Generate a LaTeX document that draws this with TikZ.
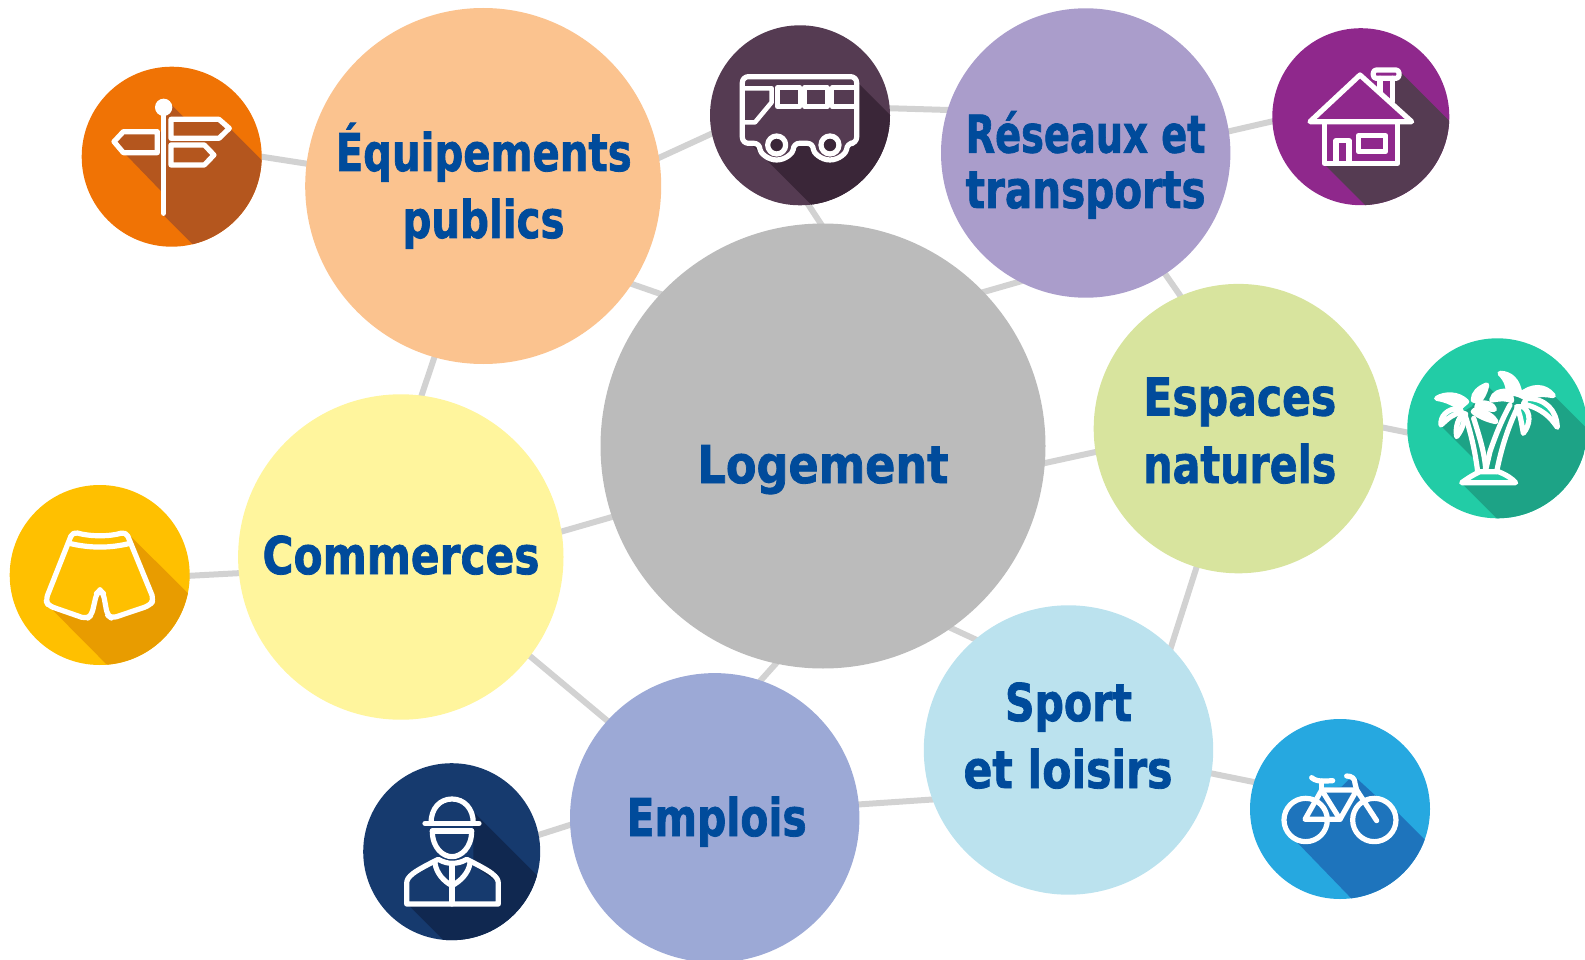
\documentclass[tikz,border=0pt]{standalone}
\usepackage{fontspec}
\usepackage{graphicx}
\setmainfont{DejaVu Sans}[BoldFeatures={FakeBold=1.6}]
\usetikzlibrary{backgrounds}
\definecolor{cEq}{HTML}{FBC38F}\definecolor{cRe}{HTML}{AA9DCB}\definecolor{cEs}{HTML}{D8E49E}
\definecolor{cSp}{HTML}{BBE2EE}\definecolor{cEm}{HTML}{9CA9D6}\definecolor{cCo}{HTML}{FFF59D}
\definecolor{cLo}{HTML}{BBBBBB}\definecolor{cLink}{HTML}{D2D2D2}\definecolor{cTxt}{HTML}{004B9B}
\definecolor{sA}{HTML}{F07305}\definecolor{sB}{HTML}{B4561E}
\definecolor{bA}{HTML}{553B52}\definecolor{bB}{HTML}{3A2638}
\definecolor{hA}{HTML}{8F288C}\definecolor{hB}{HTML}{553B52}
\definecolor{pA}{HTML}{22CCA6}\definecolor{pB}{HTML}{1DA386}
\definecolor{vA}{HTML}{26A8E0}\definecolor{vB}{HTML}{1E74BC}
\definecolor{wA}{HTML}{163A6E}\definecolor{wB}{HTML}{102850}
\definecolor{mA}{HTML}{FFC000}\definecolor{mB}{HTML}{E89C00}
\newcommand{\fitw}[2]{\resizebox{#1pt}{\height}{\fontsize{52}{60}\selectfont\bfseries #2}}
\tikzset{
  bub/.style={circle,inner sep=0pt,outer sep=0pt,minimum size=#1},
  link/.style={draw=cLink,line width=6pt,shorten <=-3pt,shorten >=-3pt},
  lab/.style={anchor=base,inner sep=0pt,text=cTxt},
  ic/.style={draw=white,line width=5.2pt,line join=round,line cap=round},
}
\begin{document}
\begin{tikzpicture}[x=1pt,y=-1pt]
\useasboundingbox (0,0) rectangle (1585,960);
% big circles
\node[bub=445pt,fill=cLo] (logement) at (823,446) {};
\node[bub=356pt,fill=cEq] (equip) at (483.2,186) {};
\node[bub=289.4pt,fill=cRe] (reseaux) at (1085.7,153) {};
\node[bub=289.4pt,fill=cEs] (espaces) at (1238.4,428.6) {};
\node[bub=289.4pt,fill=cSp] (sport) at (1068.5,750) {};
\node[bub=289.4pt,fill=cEm] (emplois) at (714.7,817.8) {};
\node[bub=325.4pt,fill=cCo] (commerces) at (400.8,557) {};
% icon circles
\node[bub=180pt,fill=sA] (sign) at (171.7,156.7) {};
\node[bub=180pt,fill=bA] (bus) at (800,115.3) {};
\node[bub=177pt,fill=hA] (house) at (1360.8,116.7) {};
\node[bub=180pt,fill=pA] (palm) at (1497.3,428.3) {};
\node[bub=180pt,fill=vA] (bike) at (1340,809) {};
\node[bub=177pt,fill=wA] (worker) at (451.7,851.7) {};
\node[bub=180pt,fill=mA] (shorts) at (99.7,575) {};
% connectors
\begin{scope}[on background layer]
\path[link] ([shift={(0:90pt)}]sign.center) -- ([shift={(172.8:178pt)}]equip.center);
\path[link] ([shift={(9.1:178pt)}]equip.center) -- ([shift={(191.7:90pt)}]bus.center);
\path[link] ([shift={(4.5:90pt)}]bus.center) -- ([shift={(162.7:144.7pt)}]reseaux.center);
\path[link] ([shift={(8.6:144.7pt)}]reseaux.center) -- ([shift={(183:88.5pt)}]house.center);
\path[link] ([shift={(-56.7:144.7pt)}]reseaux.center) -- ([shift={(113.6:144.7pt)}]espaces.center);
\path[link] ([shift={(-84.6:90pt)}]bus.center) -- ([shift={(90.6:222.5pt)}]logement.center);
\path[link] ([shift={(-33.4:178pt)}]equip.center) -- ([shift={(136.9:222.5pt)}]logement.center);
\path[link] ([shift={(-117.2:144.7pt)}]reseaux.center) -- ([shift={(43.8:222.5pt)}]logement.center);
\path[link] ([shift={(-4.4:222.5pt)}]logement.center) -- ([shift={(189.3:144.7pt)}]espaces.center);
\path[link] ([shift={(0.4:144.7pt)}]espaces.center) -- ([shift={(182.7:90pt)}]palm.center);
\path[link] ([shift={(-106.8:144.7pt)}]espaces.center) -- ([shift={(45:144.7pt)}]sport.center);
\path[link] ([shift={(-54.9:222.5pt)}]logement.center) -- ([shift={(130.1:144.7pt)}]sport.center);
\path[link] ([shift={(-102.2:222.5pt)}]logement.center) -- ([shift={(71.5:144.7pt)}]emplois.center);
\path[link] ([shift={(198.6:222.5pt)}]logement.center) -- ([shift={(9:162.7pt)}]commerces.center);
\path[link] ([shift={(82.7:162.7pt)}]commerces.center) -- ([shift={(-105.9:178pt)}]equip.center);
\path[link] ([shift={(185.7:162.7pt)}]commerces.center) -- ([shift={(-0.5:90pt)}]shorts.center);
\path[link] ([shift={(-37.5:162.7pt)}]commerces.center) -- ([shift={(137.9:144.7pt)}]emplois.center);
\path[link] ([shift={(182.8:144.7pt)}]emplois.center) -- ([shift={(10.9:88.5pt)}]worker.center);
\path[link] ([shift={(5.3:144.7pt)}]emplois.center) -- ([shift={(200:144.7pt)}]sport.center);
\path[link] ([shift={(-9.3:144.7pt)}]sport.center) -- ([shift={(162.6:90pt)}]bike.center);
\end{scope}
% labels
\node[lab] (t1) at (483.7,171) {\fitw{296}{Équipements}};
\node[lab] (t2) at (483.5,238) {\fitw{162}{publics}};
\node[lab] (t3) at (1085.6,152.6) {\fitw{240}{Réseaux et}};
\node[lab] (t4) at (1085.6,208) {\fitw{240}{transports}};
\node[lab] (t5) at (1239.8,415.5) {\fitw{193}{Espaces}};
\node[lab] (t6) at (1239.8,483) {\fitw{193}{naturels}};
\node[lab] (t7) at (823,483) {\fitw{251}{Logement}};
\node[lab] (t8) at (401,574) {\fitw{277}{Commerces}};
\node[lab] (t9) at (716.7,836) {\fitw{180}{Emplois}};
\node[lab] (t10) at (1068.5,721) {\fitw{127}{Sport}};
\node[lab] (t11) at (1068,788) {\fitw{209}{et loisirs}};
% sign icon
\begin{scope}[shift={(70,50)},x=0.3333pt,y=-0.3333pt]
\begin{scope}\clip (sign) circle [radius=90pt];
\fill[sB] (300,160)--(345,205)--(450,205)--(480,235)--(700,455)--(475,690)--(275,490)--(275,425)--(130,275)--(155,245)--(274,245)--(274,190)--cycle;
\end{scope}
\path[ic] (281,175)--(281,490);
\fill[white] (281,172) circle [radius=26];
\path[ic] (303,208)--(447,208)--(478,235)--(447,265)--(303,265)--cycle;
\path[ic] (303,285)--(403,285)--(432,315)--(403,345)--(303,345)--cycle;
\path[ic] (262,245)--(160,245)--(132,275)--(160,308)--(262,308)--cycle;
\end{scope}
% bus icon
\begin{scope}[shift={(700,15)},x=0.3333pt,y=-0.3333pt]
\begin{scope}\clip (bus) circle [radius=90pt];
\fill[bB] (460,190)--(760,490)--(500,735)--(150,385)--cycle;
\end{scope}
\path[ic,fill=bA,rounded corners=6pt] (127,220)--(127,385)--(180,385) arc[start angle=180,end angle=0,radius=50]--(340,385) arc[start angle=180,end angle=0,radius=50]--(470,385)--(470,185)--(127,185)--cycle;
\path[ic,fill=bB] (230,390) circle [radius=27];
\path[ic,fill=bB] (390,390) circle [radius=27];
\path[ic,line width=4.6pt] (127,220)--(215,220)--(215,262)--(165,322)--(127,322);
\path[ic,line width=4.6pt] (232,218) rectangle (300,275);
\path[ic,line width=4.6pt] (314,218) rectangle (382,275);
\path[ic,line width=4.6pt] (396,218) rectangle (470,275);
\end{scope}
% house icon
\begin{scope}[shift={(1265,20)},x=0.3333pt,y=-0.3333pt]
\begin{scope}\clip (house) circle [radius=88.5pt];
\fill[hB] (405,155)--(620,370)--(400,655)--(178,433)--(398,433)--(398,305)--(440,305)--(388,258)--(388,175)--cycle;
\end{scope}
\path[ic] (135,305)--(285,165)--(440,305)--cycle;
\path[ic,rounded corners=3pt] (325,150) rectangle (402,175);
\path[ic] (345,175)--(345,215);
\path[ic] (382,175)--(382,245);
\path[ic] (178,305)--(178,430)--(398,430)--(398,305);
\path[ic] (213,430)--(213,362)--(252,362)--(252,430);
\path[ic] (280,347) rectangle (362,395);
\end{scope}
% palm icon
\begin{scope}[shift={(1395,330)},x=0.3333pt,y=-0.3333pt]
\begin{scope}\clip (palm) circle [radius=90pt];
\fill[pB] (135,285)--(245,395)--(245,425)--(200,460)--(420,680)--(720,440)--(480,200)--(400,190)--(360,190)--(315,205)--(275,165)--(230,230)--cycle;
\end{scope}
\path[ic,fill=pA] (200,458) .. controls (225,440) and (240,432) .. (255,425)--(310,425) .. controls (335,435) and (350,445) .. (362,458)--cycle;
\path[ic] (248,425) .. controls (240,360) and (225,300) .. (210,255);
\path[ic] (272,420) .. controls (270,370) and (250,310) .. (236,265);
\path[ic] (272,420) .. controls (277,400) and (280,385) .. (285,365) .. controls (300,320) and (320,270) .. (345,225);
\path[ic] (305,425) .. controls (320,350) and (340,290) .. (368,232);
\path[ic,fill=white] (375,195) .. controls (370,150) and (345,130) .. (315,130) .. controls (335,150) and (340,170) .. (340,185)--cycle;
\path[ic,fill=white] (375,195) .. controls (410,165) and (450,165) .. (475,197) .. controls (440,190) and (410,195) .. (395,205)--cycle;
\path[ic,fill=pA] (395,205) .. controls (450,205) and (485,240) .. (487,292) .. controls (465,260) and (440,235) .. (385,222)--cycle;
\path[ic,fill=pA] (385,230) .. controls (410,250) and (405,285) .. (385,310) .. controls (380,280) and (375,250) .. (365,230)--cycle;
\path[ic,fill=white] (345,185) .. controls (315,180) and (295,190) .. (290,210) .. controls (320,205) and (335,205) .. (350,212)--cycle;
\path[ic,fill=white] (215,215) .. controls (190,190) and (150,190) .. (125,205) .. controls (160,210) and (180,225) .. (195,232)--cycle;
\path[ic,fill=white] (235,210) .. controls (235,190) and (250,175) .. (275,165) .. controls (270,190) and (260,205) .. (250,215)--cycle;
\path[ic,fill=white] (250,220) .. controls (275,215) and (295,225) .. (298,238) .. controls (285,238) and (265,235) .. (245,232)--cycle;
\path[ic,fill=pA] (240,240) .. controls (275,245) and (295,260) .. (303,275) .. controls (275,270) and (245,255) .. (235,245)--cycle;
\path[ic,fill=pA] (195,235) .. controls (155,235) and (135,260) .. (138,285) .. controls (160,265) and (175,250) .. (200,248)--cycle;
\path[ic,fill=pA] (205,250) .. controls (190,265) and (180,290) .. (185,320) .. controls (205,295) and (208,270) .. (212,252)--cycle;
\end{scope}
% bike icon
\begin{scope}[shift={(1240,710)},x=0.3333pt,y=-0.3333pt]
\begin{scope}\clip (bike) circle [radius=90pt];
\fill[vB] (350,205)--(410,260)--(450,285)--(660,495)--(440,675)--(150,375)--(240,235)--(305,230)--(325,210)--cycle;
\fill[vB] (197,330) circle [radius=65];
\fill[vB] (403,330) circle [radius=65];
\end{scope}
\path[ic] (197,330) circle [radius=65];
\path[ic] (403,330) circle [radius=65];
\path[ic] (195,328)--(300,328)--(350,240)--(245,240)--cycle;
\path[ic] (245,240)--(300,328);
\path[ic] (350,240)--(410,332);
\path[ic] (245,240)--(245,213);
\path[ic] (215,203) .. controls (225,212) and (235,215) .. (278,212);
\path[ic] (350,240)--(345,220) .. controls (345,205) and (335,198) .. (320,198);
\end{scope}
% worker icon
\begin{scope}[shift={(355,755)},x=0.3333pt,y=-0.3333pt]
\begin{scope}\clip (worker) circle [radius=88.5pt];
\fill[wB] (350,165)--(700,515)--(400,690)--(160,450)--(430,450)--(430,385)--(355,330)--(355,225)--cycle;
\end{scope}
\path[ic] (228,205) .. controls (228,160) and (255,132) .. (291,132) .. controls (327,132) and (355,160) .. (355,205);
\path[ic] (210,205)--(372,205);
\path[ic] (232,228)--(350,228);
\path[ic] (232,228) .. controls (232,280) and (265,305) .. (291,305) .. controls (317,305) and (350,280) .. (350,228);
\path[ic] (155,447)--(155,385) .. controls (155,365) and (175,350) .. (250,313) .. controls (265,322) and (280,325) .. (291,325) .. controls (305,325) and (320,322) .. (335,313) .. controls (410,350) and (430,365) .. (430,385)--(430,447)--cycle;
\path[ic] (240,325) .. controls (245,355) and (265,378) .. (291,392) .. controls (317,378) and (340,355) .. (345,325);
\path[ic] (291,330)--(291,447);
\end{scope}
% shorts icon
\begin{scope}[shift={(0,475)},x=0.3333pt,y=-0.3333pt]
\begin{scope}\clip (shorts) circle [radius=90pt];
\fill[mB] (380,172)--(700,490)--(500,750)--(145,392)--cycle;
\end{scope}
\path[ic,fill=mA,rounded corners=5pt] (218,170) .. controls (270,185) and (330,185) .. (378,170)--(462,375)--(448,392)--(335,430)--(322,420)--(310,355)--(300,345)--(290,355)--(275,420)--(260,432)--(145,392)--(137,375)--cycle;
\path[ic] (208,205) .. controls (270,220) and (330,220) .. (390,205);
\end{scope}
\end{tikzpicture}
\end{document}
